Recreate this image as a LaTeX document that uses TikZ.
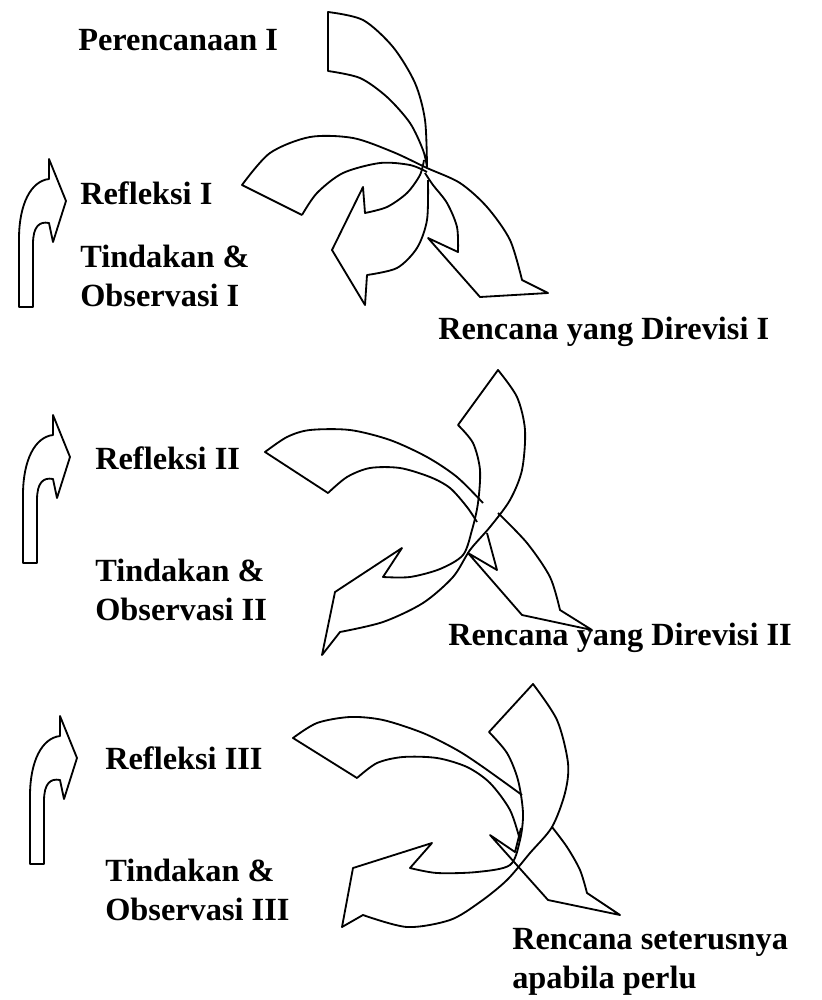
\documentclass[tikz,border=0pt]{standalone}
\usepackage{fontspec}
\setmainfont{Liberation Serif}
\begin{document}
\begin{tikzpicture}[x=0.025cm,y=-0.025cm,
  lbl/.style={anchor=west,inner sep=0pt,align=left,font=\bfseries\fontsize{23}{27.6}\selectfont},
  band/.style={draw=black,line width=1.3pt,line join=round}]
\useasboundingbox (0,0) rectangle (822,1000);
\node[lbl] (plan1) at (78,40) {Perencanaan I};
\node[lbl] (refl1) at (80,193) {Refleksi I};
\node[lbl] (act1) at (80,276) {Tindakan \&\\Observasi I};
\node[lbl] (rev1) at (438,332) {Rencana yang Direvisi I};
\node[lbl] (refl2) at (95,458) {Refleksi II};
\node[lbl] (act2) at (95,590) {Tindakan \&\\Observasi II};
\node[lbl] (rev2) at (448,638) {Rencana yang Direvisi II};
\node[lbl] (refl3) at (105,758) {Refleksi III};
\node[lbl] (act3) at (105,890) {Tindakan \&\\Observasi III};
\node[lbl] (next) at (512,962) {Rencana seterusnya\\apabila perlu};
\foreach \ax/\ay in {49/159,53/415,60/716}
  \draw[band,shift={(\ax,\ay)}] (0,0) -- (17,42) -- (4,83) -- (0,64)
    .. controls (-10,62) and (-16,68) .. (-16,85) -- (-16,148) -- (-30,148) -- (-30,80)
    .. controls (-30,45) and (-18,22) .. (0,20) -- cycle;
\draw[band] plot[smooth] coordinates {(427,167) (425,120) (415,83) (393,47) (363,20) (328,12)}
  -- (328,71) -- plot[smooth] coordinates {(328,71) (360,78) (387,97) (410,123) (423,150) (427,167)};
\draw[band] plot[smooth] coordinates {(302,215) (317,193) (343,173) (380,163) (410,165) (427,172)};
\draw[band] (302,215) -- (242,185) -- plot[smooth] coordinates {(242,185) (270,153) (310,137) (353,138) (393,152) (427,168) (460,183) (487,207) (510,240) (522,280)}
  -- (548,293) -- (480,297) -- (428,238) -- (458,252)
  -- plot[smooth] coordinates {(458,252) (457,227) (447,203) (433,185) (425,173)};
\draw[band] plot[smooth] coordinates {(424,160) (420,175) (407,193) (387,207) (365,213)}
  -- (363,187) -- (332,250) -- (365,305) -- (367,275)
  -- plot[smooth] coordinates {(367,275) (397,268) (417,248) (427,220) (428,180)};
\draw[band] plot[smooth] coordinates {(498,370) (517,397) (525,430) (522,470) (510,500) (490,527) (470,550) (453,577) (423,603) (383,622) (340,632)}
  -- (322,655) -- (335,592) -- (402,548) -- (383,577)
  -- plot[smooth] coordinates {(383,577) (410,577) (440,569) (463,555) (472,530) (478,503) (480,470) (473,443) (458,425)} -- cycle;
\draw[band] plot[smooth] coordinates {(483,503) (457,477) (427,457) (390,440) (350,430) (310,430) (287,437) (265,452)}
  -- (328,493) -- plot[smooth] coordinates {(328,493) (347,477) (370,468) (400,468) (430,477) (450,488) (467,507) (477,522)};
\draw[band] plot[smooth] coordinates {(498,513) (527,543) (550,577) (560,610)}
  -- (592,630) -- (522,615) -- (468,553) -- (497,570) -- (487,533);
\draw[band] plot[smooth] coordinates {(533,684) (557,720) (568,763) (565,793) (552,827) (530,853) (507,880) (480,902) (450,920) (407,927) (363,915)}
  -- (342,927) -- (353,868) -- (432,843) -- (410,868)
  -- plot[smooth] coordinates {(410,868) (437,873) (477,872) (510,865) (520,840) (523,813) (518,780) (507,753) (489,732)} -- cycle;
\draw[band] plot[smooth] coordinates {(522,795) (483,767) (457,750) (423,733) (383,720) (350,717) (317,723) (293,738)}
  -- (357,778) -- plot[smooth] coordinates {(357,778) (377,763) (403,757) (437,758) (467,767) (490,783) (510,810) (520,840)};
\draw[band] plot[smooth] coordinates {(552,827) (567,847) (580,870) (587,893)}
  -- (620,915) -- (548,900) -- (490,835) -- (515,852) -- (521,828);
\end{tikzpicture}
\end{document}
